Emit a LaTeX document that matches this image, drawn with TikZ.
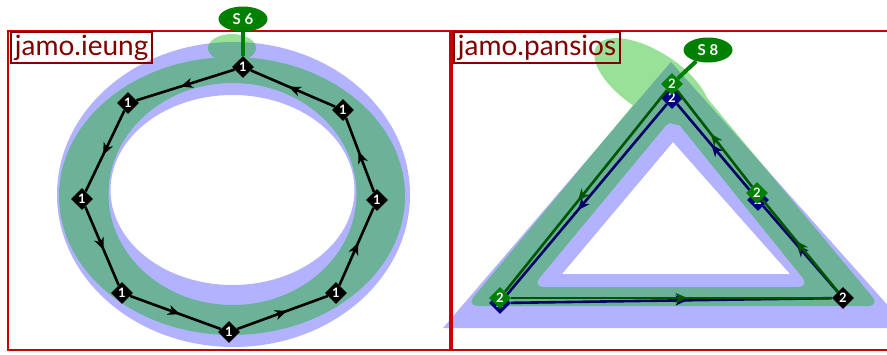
\documentclass[tikz,border=0pt]{standalone}
\usepackage{fontspec}
\setmainfont{Lato}
\usetikzlibrary{shapes.geometric, arrows.meta, decorations.markings}
\definecolor{framered}{RGB}{204,0,0}
\definecolor{labelred}{RGB}{128,0,0}
\definecolor{ptgreen}{RGB}{0,128,0}
\definecolor{ptnavy}{RGB}{0,0,128}
\definecolor{pathgreen}{RGB}{0,85,0}
\definecolor{pathnavy}{RGB}{0,0,100}
\definecolor{inkgreen}{RGB}{0,178,0}
\definecolor{inkblue}{RGB}{0,0,255}

\begin{document}
\begin{tikzpicture}[
    x=1pt, y=-1pt,
    pt/.style={diamond, fill=black, text=white, inner sep=0pt, minimum size=22pt, font=\bfseries\fontsize{13}{13}\selectfont},
    ptg/.style={pt, fill=ptgreen},
    ptn/.style={pt, fill=ptnavy},
    seg/.style={line width=2.6pt, postaction={decorate}, decoration={markings, mark=at position 0.55 with {\arrow{Stealth[length=12pt, width=10pt, inset=3.5pt]}}}},
    frame/.style={draw=framered, line width=2.5pt},
    namebox/.style={draw=labelred, line width=1.8pt, text=labelred, inner xsep=4pt, inner ysep=0pt, minimum height=31pt, font=\fontsize{28}{28}\selectfont},
    tag/.style={ellipse, fill=ptgreen, text=white, inner sep=0pt, minimum width=49pt, minimum height=25pt, font=\bfseries\fontsize{15}{15}\selectfont},
    stem/.style={ptgreen, line width=4pt}
]
\useasboundingbox (0,0) rectangle (887,354);

\begin{scope}[transparency group, opacity=0.3]
\fill[inkblue, even odd rule] (233.5,194.5) ellipse [x radius=176.5, y radius=152.5] (232.5,190) ellipse [x radius=122, y radius=95];
\fill[inkblue, even odd rule] (443,328) -- (671,62) -- (908,328) -- cycle (562,274) -- (673,142) -- (790,274) -- cycle;
\end{scope}
\begin{scope}[transparency group, opacity=0.4]
\fill[inkgreen, even odd rule] (232,196) ellipse [x radius=173, y radius=139] (232.5,194) ellipse [x radius=124, y radius=111];
\fill[inkgreen] (232,48) ellipse [x radius=24, y radius=14];
\fill[inkgreen, rotate around={-33:(652,82)}] (652,82) ellipse [x radius=66, y radius=30];
\fill[inkgreen, even odd rule, rounded corners=12pt] (466,306) -- (673,57) -- (880,306) -- cycle (532,287) -- (673,117) -- (810,287) -- cycle;
\end{scope}

\draw[frame] (8,31) rectangle (450,350);
\draw[frame] (452,31) rectangle (910,350);

\node[namebox, anchor=west] (nameieung) at (10,47.5) {jamo.ieung};
\node[namebox, anchor=west] (namepansios) at (453,47.5) {jamo.pansios};

\node[pt] (ieungtop) at (243,67) {1};
\node[pt] (ieungnw) at (128,103) {1};
\node[pt] (ieungw) at (82,199) {1};
\node[pt] (ieungsw) at (122,293) {1};
\node[pt] (ieungs) at (229,332) {1};
\node[pt] (ieungse) at (336,293) {1};
\node[pt] (ieunge) at (377,200) {1};
\node[pt] (ieungne) at (343,110) {1};

\foreach \a/\b in {ieungtop/ieungnw, ieungnw/ieungw, ieungw/ieungsw, ieungsw/ieungs, ieungs/ieungse, ieungse/ieunge, ieunge/ieungne, ieungne/ieungtop}
    \draw[seg] (\a) -- (\b);

\node[ptn] (pntop) at (672,98) {2};
\node[ptn] (pnleft) at (500,303) {2};
\node[ptn] (pnright) at (758,200) {2};
\node[pt] (pcorner) at (843,298) {2};

\foreach \a/\b in {pntop/pnleft, pnleft/pcorner, pcorner/pnright, pnright/pntop}
    \draw[seg, pathnavy] (\a) -- (\b);

\node[ptg] (pgtop) at (672,84) {2};
\node[ptg] (pgleft) at (500,298) {2};
\node[ptg] (pgright) at (757,193) {2};

\foreach \a/\b in {pgtop/pgleft, pgleft/pcorner, pcorner/pgright, pgright/pgtop}
    \draw[seg, pathgreen] (\a) -- (\b);

\node[tag] (tagsix) at (243,19) {S 6};
\node[tag] (tageight) at (708,50) {S 8};
\draw[stem] (tagsix) -- (ieungtop);
\draw[stem] (tageight) -- (pgtop);

\end{tikzpicture}
\end{document}
